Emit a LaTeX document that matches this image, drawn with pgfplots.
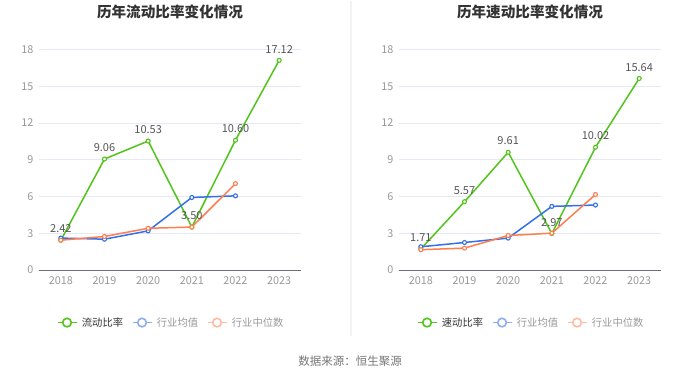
\documentclass[border=0pt]{standalone}
\usepackage{pgfplots}
\pgfplotsset{compat=1.18}
\usepackage{fontspec}
\setmainfont{Noto Sans CJK SC}
\definecolor{cgreen}{HTML}{52C41A}
\definecolor{cblue}{HTML}{3370EB}
\definecolor{corange}{HTML}{FF7D4F}
\definecolor{lblue}{HTML}{8EAEF2}
\definecolor{lorange}{HTML}{FFBBA3}
\definecolor{titlec}{HTML}{333333}
\definecolor{tickc}{HTML}{999999}
\definecolor{labelc}{HTML}{555555}
\definecolor{gridc}{HTML}{E4E9F3}
\definecolor{axisc}{HTML}{6E7079}
\definecolor{divc}{HTML}{F2F2F2}
\definecolor{srcc}{HTML}{777777}
\definecolor{legtextA}{HTML}{333333}
\definecolor{legtextB}{HTML}{999999}
\pgfplotsset{
  mystyle/.style={
    scale only axis, width=262pt, height=220.3pt, anchor=south west,
    xmin=2017.5, xmax=2023.5, ymin=0, ymax=18,
    ytick={0,3,...,18}, xtick={2018,...,2023},
    axis x line*=bottom, axis y line*=left,
    y axis line style={draw=none},
    x axis line style={color=axisc, line width=0.8pt, -},
    major tick length=0pt,
    ymajorgrids, grid style={color=gridc, line width=0.8pt},
    tick label style={font=\fontsize{10.8}{12}\selectfont, text=tickc},
    /pgf/number format/assume math mode=true,
    /pgf/number format/1000 sep={},
    xticklabel style={yshift=-3pt},
    yticklabel style={xshift=-2pt},
    clip=false,
    legend columns=3,
    legend style={at={(0.503,-0.239)}, anchor=center, draw=none, fill=none,
      font=\fontsize{10.3}{12}\selectfont,
      /tikz/every odd column/.append style={column sep=3pt},
      /tikz/every even column/.append style={column sep=7pt},
      nodes={inner sep=1.5pt}},
    legend image code/.code={
      \draw[##1, mark=none, line width=1.8pt] (0pt,0pt) -- (19pt,0pt);
      \draw[##1, mark=none, line width=1.6pt, fill=white] (9.5pt,0pt) circle (4.3pt);},
    every node near coord/.style={font=\fontsize{11}{12}\selectfont, text=labelc, anchor=south, inner sep=0pt, yshift=7pt},
  },
  ser/.style={line width=1.5pt, mark=*, mark size=2pt, mark options={fill=white, line width=1.1pt}, forget plot},
}
\begin{document}
\begin{tikzpicture}
\fill[white] (0pt,0pt) rectangle (700pt,378pt);
\draw[color=divc, line width=1.2pt] (351pt,378pt) -- (351pt,43pt);
\node[font=\fontsize{14.6}{16}\selectfont\bfseries, text=titlec] at (170pt,367pt) {历年流动比率变化情况};
\node[font=\fontsize{14.6}{16}\selectfont\bfseries, text=titlec] at (530pt,367pt) {历年速动比率变化情况};
\node[font=\fontsize{11.5}{13}\selectfont, text=srcc] at (350pt,17pt) {数据来源：恒生聚源};

\begin{axis}[mystyle, at={(39pt,108.7pt)}]
\addlegendimage{color=cgreen}
\addlegendentry{\textcolor{legtextA}{流动比率}}
\addlegendimage{color=lblue}
\addlegendentry{\textcolor{legtextB}{行业均值}}
\addlegendimage{color=lorange}
\addlegendentry{\textcolor{legtextB}{行业中位数}}
\addplot[ser, color=cgreen] coordinates {(2018,2.42) (2019,9.06) (2020,10.53) (2021,3.50) (2022,10.60) (2023,17.12)};
\addplot[ser, color=cblue] coordinates {(2018,2.60) (2019,2.51) (2020,3.19) (2021,5.92) (2022,6.05)};
\addplot[ser, color=corange] coordinates {(2018,2.43) (2019,2.73) (2020,3.40) (2021,3.50) (2022,7.05)};
\addplot[draw=none, mark=none, forget plot, nodes near coords, point meta=explicit symbolic] coordinates {(2018,2.42) [2.42] (2019,9.06) [9.06] (2020,10.53) [10.53] (2021,3.50) [3.50] (2022,10.60) [10.60] (2023,17.12) [17.12]};
\end{axis}

\begin{axis}[mystyle, at={(399pt,108.7pt)}]
\addlegendimage{color=cgreen}
\addlegendentry{\textcolor{legtextA}{速动比率}}
\addlegendimage{color=lblue}
\addlegendentry{\textcolor{legtextB}{行业均值}}
\addlegendimage{color=lorange}
\addlegendentry{\textcolor{legtextB}{行业中位数}}
\addplot[ser, color=cgreen] coordinates {(2018,1.71) (2019,5.57) (2020,9.61) (2021,2.97) (2022,10.02) (2023,15.64)};
\addplot[ser, color=cblue] coordinates {(2018,1.89) (2019,2.24) (2020,2.60) (2021,5.19) (2022,5.30)};
\addplot[ser, color=corange] coordinates {(2018,1.65) (2019,1.78) (2020,2.81) (2021,3.00) (2022,6.16)};
\addplot[draw=none, mark=none, forget plot, nodes near coords, point meta=explicit symbolic] coordinates {(2018,1.71) [1.71] (2019,5.57) [5.57] (2020,9.61) [9.61] (2021,2.97) [2.97] (2022,10.02) [10.02] (2023,15.64) [15.64]};
\end{axis}
\end{tikzpicture}
\end{document}
